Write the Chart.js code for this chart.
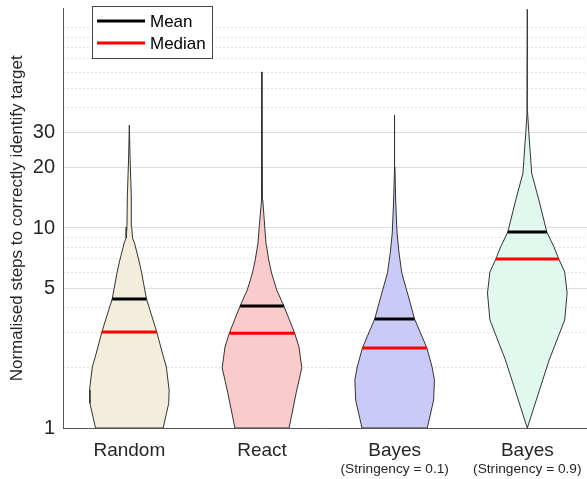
<!DOCTYPE html>
<html>
<head>
<meta charset="utf-8">
<script src="https://cdn.jsdelivr.net/npm/chart.js@4.4.1/dist/chart.umd.min.js"></script>
<style>
	body { margin: 0; background: #fff; }
	canvas { display: block; }
</style>
</head>
<body>
<canvas id="chart" width="587" height="479"></canvas>
<script>
// Kategorien und Achsenbeschriftung
const categories = ["Random", "React", "Bayes", "Bayes"];
const subLabels = ["", "", "(Stringency = 0.1)", "(Stringency = 0.9)"];
const yTickLabels = [1, 5, 10, 20, 30];
const yMinorTicks = [2, 3, 4, 6, 7, 8, 9, 40, 50, 60, 70, 80, 90, 100];
const legendLabels = ["Mean", "Median"];

// Violin-Umrisse: Schritte und relative Dichte (max = 1)
const randomSteps = [1.0, 1.33, 1.55, 2.02, 2.37, 3.02, 4.42, 5.96, 6.76, 8.41, 8.91, 10.1, 14.3, 21.9, 32.7];
const randomDensity = [0.85, 0.99, 1.0, 0.93, 0.83, 0.69, 0.43, 0.31, 0.25, 0.13, 0.08, 0.06, 0.05, 0.02, 0];

const reactSteps = [1.0, 1.5, 2.0, 2.54, 2.98, 3.47, 4.07, 4.9, 5.96, 6.92, 8.41, 10.1, 13.8, 16.0, 60.3];
const reactDensity = [0.68, 0.86, 1.0, 0.93, 0.82, 0.69, 0.55, 0.37, 0.24, 0.17, 0.10, 0.07, 0.02, 0.01, 0];

const bayes01Steps = [1.0, 1.38, 1.74, 2.02, 2.51, 2.99, 3.51, 4.37, 5.96, 7.5, 9.44, 13.8, 20.2, 36.7];
const bayes01Density = [0.82, 0.98, 1.0, 0.94, 0.81, 0.65, 0.50, 0.37, 0.18, 0.11, 0.06, 0.025, 0.008, 0];

const bayes09Steps = [1.0, 2.19, 3.47, 4.73, 6.03, 7.0, 8.04, 9.55, 13.8, 18.8, 23.7, 29.9, 37.6, 124];
const bayes09Density = [0, 0.55, 0.94, 1.0, 0.94, 0.79, 0.67, 0.49, 0.29, 0.11, 0.075, 0.038, 0.008, 0];

const meanSteps = [4.42, 4.07, 3.51, 9.55];
const medianSteps = [3.02, 2.98, 2.51, 7.0];

const violinColors = ["#f3eedb", "#f9cbcb", "#cacaf6", "#e1f8ef"];
const textColor = "#262626";
const fontFamily = "'Liberation Sans', Arial, sans-serif";
const halfWidth = 0.3;

const violins = [
	{ steps: randomSteps, dens: randomDensity },
	{ steps: reactSteps, dens: reactDensity },
	{ steps: bayes01Steps, dens: bayes01Density },
	{ steps: bayes09Steps, dens: bayes09Density }
];

// Dichte an einer Stelle (log-Interpolation)
function densityAt(steps, dens, v) {
	const lv = Math.log10(v);
	for (let i = 0; i < steps.length - 1; i++) {
		const a = Math.log10(steps[i]), b = Math.log10(steps[i + 1]);
		if (lv >= a && lv <= b) return dens[i] + (dens[i + 1] - dens[i]) * (lv - a) / (b - a);
	}
	return 0;
}

const datasets = [];

violins.forEach((vl, i) => {
	const c = i + 1;
	const right = vl.steps.map((s, k) => ({ x: c + vl.dens[k] * halfWidth, y: s }));
	const left = vl.steps.map((s, k) => ({ x: c - vl.dens[k] * halfWidth, y: s })).reverse();
	datasets.push({
		data: right.concat(left, [right[0]]),
		backgroundColor: violinColors[i],
		borderColor: "#333333",
		borderWidth: 1,
		fill: "shape",
		showLine: true,
		pointRadius: 0,
		tension: 0,
		order: 2
	});

	[[meanSteps[i], "#000000"], [medianSteps[i], "#ff0000"]].forEach(([m, col]) => {
		const w = densityAt(vl.steps, vl.dens, m) * halfWidth;
		datasets.push({
			data: [{ x: c - w, y: m }, { x: c + w, y: m }],
			borderColor: col,
			borderWidth: 3,
			showLine: true,
			pointRadius: 0,
			fill: false,
			order: 0
		});
	});
});

// Legende im Diagramm
const legendBox = {
	id: "legendBox",
	afterDraw(chart) {
		const ctx = chart.ctx;
		const a = chart.chartArea;
		const x = a.left + 29, y = a.top - 2.5;
		const colors = ["#000000", "#ff0000"];
		ctx.save();
		ctx.fillStyle = "#ffffff";
		ctx.fillRect(x, y, 120, 52);
		ctx.strokeStyle = "#444444";
		ctx.lineWidth = 1;
		ctx.strokeRect(Math.round(x) + 0.5, Math.round(y) + 0.5, 120, 52);
		ctx.font = "17px " + fontFamily;
		ctx.textBaseline = "middle";
		legendLabels.forEach((lbl, i) => {
			const ly = y + 15 + i * 22;
			ctx.strokeStyle = colors[i];
			ctx.lineWidth = 3;
			ctx.beginPath();
			ctx.moveTo(x + 5, ly);
			ctx.lineTo(x + 53, ly);
			ctx.stroke();
			ctx.fillStyle = "#000000";
			ctx.fillText(lbl, x + 58, ly + 1);
		});
		ctx.restore();
	}
};

new Chart(document.getElementById("chart"), {
	type: "scatter",
	data: { datasets: datasets },
	options: {
		responsive: false,
		animation: false,
		layout: { padding: { top: 8.6, right: 0, bottom: 0, left: 0 } },
		plugins: {
			legend: { display: false },
			tooltip: { enabled: false }
		},
		scales: {
			x: {
				type: "linear",
				position: "bottom",
				min: 0.5,
				max: 4.45,
				weight: 0,
				afterBuildTicks: s => { s.ticks = categories.map((_, i) => ({ value: i + 1 })); },
				afterFit: s => { s.height = 32; },
				ticks: {
					callback: v => categories[v - 1],
					font: { family: fontFamily, size: 19 },
					color: textColor,
					padding: 11.5,
					maxRotation: 0,
					autoSkip: false
				},
				grid: { display: false, drawTicks: false },
				border: { color: "#555555", width: 1 }
			},
			x2: {
				type: "linear",
				position: "bottom",
				min: 0.5,
				max: 4.45,
				weight: 1,
				afterBuildTicks: s => { s.ticks = subLabels.map((_, i) => ({ value: i + 1 })); },
				afterFit: s => { s.height = 19; },
				ticks: {
					callback: v => subLabels[v - 1],
					font: { family: fontFamily, size: 13.7 },
					color: textColor,
					padding: 1,
					maxRotation: 0,
					autoSkip: false
				},
				grid: { display: false, drawTicks: false },
				border: { display: false }
			},
			y: {
				type: "logarithmic",
				position: "left",
				min: 1,
				max: 125,
				weight: 0,
				afterBuildTicks: s => { s.ticks = yTickLabels.map(v => ({ value: v })); },
				afterFit: s => { s.width = 63; s.paddingTop = 0; s.paddingBottom = 0; },
				ticks: {
					callback: v => String(v),
					font: { family: fontFamily, size: 20 },
					color: textColor,
					padding: 8
				},
				grid: { color: "#dcdcdc", drawTicks: false },
				border: { color: "#555555", width: 1 },
				title: {
					display: true,
					text: "Normalised steps to correctly identify target",
					font: { family: fontFamily, size: 17 },
					color: textColor,
					padding: { top: 7.5, bottom: 0 }
				}
			},
			yMinor: {
				type: "logarithmic",
				position: "left",
				min: 1,
				max: 125,
				weight: 1,
				afterBuildTicks: s => { s.ticks = yMinorTicks.map(v => ({ value: v })); },
				afterFit: s => { s.width = 0; s.paddingTop = 0; s.paddingBottom = 0; },
				ticks: { display: false },
				grid: { color: "#e3e3e3", drawTicks: false },
				border: { display: false, dash: [2, 2] }
			}
		}
	},
	plugins: [legendBox]
});
</script>
</body>
</html>
